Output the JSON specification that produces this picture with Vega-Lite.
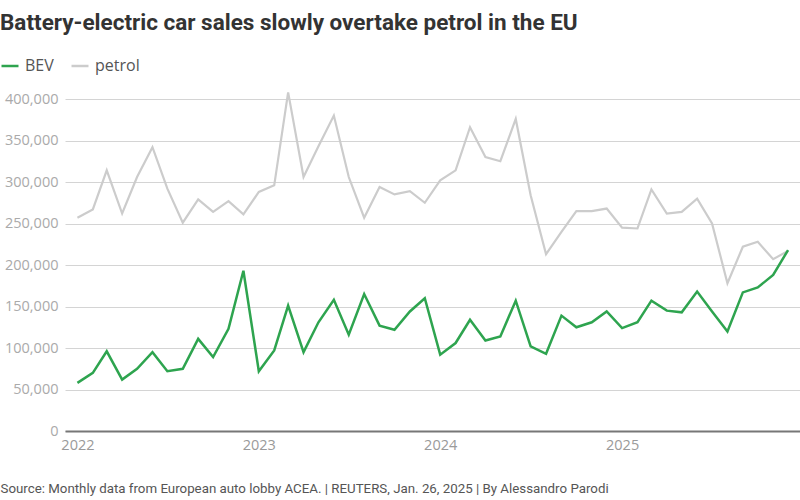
{
  "$schema": "https://vega.github.io/schema/vega-lite/v6.json",
  "width": 735,
  "height": 332,
  "autosize": {"type": "none"},
  "padding": {"left": 65, "top": 99, "right": 0, "bottom": 69},
  "background": "white",
  "title": {
    "text": "Battery-electric car sales slowly overtake petrol in the EU",
    "anchor": "start",
    "frame": "group",
    "dx": -65,
    "offset": 4,
    "baseline": "alphabetic",
    "font": "Roboto",
    "fontSize": 22.5,
    "fontWeight": "bold",
    "color": "#333333"
  },
  "data": {
    "format": {"parse": {"month": "date:'%Y-%m'"}},
    "values": [
      {"month": "2022-01", "series": "BEV", "sales": 58000},
      {"month": "2022-02", "series": "BEV", "sales": 70000},
      {"month": "2022-03", "series": "BEV", "sales": 96000},
      {"month": "2022-04", "series": "BEV", "sales": 62000},
      {"month": "2022-05", "series": "BEV", "sales": 75000},
      {"month": "2022-06", "series": "BEV", "sales": 95000},
      {"month": "2022-07", "series": "BEV", "sales": 72000},
      {"month": "2022-08", "series": "BEV", "sales": 75000},
      {"month": "2022-09", "series": "BEV", "sales": 111000},
      {"month": "2022-10", "series": "BEV", "sales": 89000},
      {"month": "2022-11", "series": "BEV", "sales": 123000},
      {"month": "2022-12", "series": "BEV", "sales": 193000},
      {"month": "2023-01", "series": "BEV", "sales": 72000},
      {"month": "2023-02", "series": "BEV", "sales": 97000},
      {"month": "2023-03", "series": "BEV", "sales": 151000},
      {"month": "2023-04", "series": "BEV", "sales": 95000},
      {"month": "2023-05", "series": "BEV", "sales": 131000},
      {"month": "2023-06", "series": "BEV", "sales": 158000},
      {"month": "2023-07", "series": "BEV", "sales": 116000},
      {"month": "2023-08", "series": "BEV", "sales": 165000},
      {"month": "2023-09", "series": "BEV", "sales": 127000},
      {"month": "2023-10", "series": "BEV", "sales": 122000},
      {"month": "2023-11", "series": "BEV", "sales": 144000},
      {"month": "2023-12", "series": "BEV", "sales": 160000},
      {"month": "2024-01", "series": "BEV", "sales": 92000},
      {"month": "2024-02", "series": "BEV", "sales": 106000},
      {"month": "2024-03", "series": "BEV", "sales": 134000},
      {"month": "2024-04", "series": "BEV", "sales": 109000},
      {"month": "2024-05", "series": "BEV", "sales": 114000},
      {"month": "2024-06", "series": "BEV", "sales": 157000},
      {"month": "2024-07", "series": "BEV", "sales": 102000},
      {"month": "2024-08", "series": "BEV", "sales": 93000},
      {"month": "2024-09", "series": "BEV", "sales": 139000},
      {"month": "2024-10", "series": "BEV", "sales": 125000},
      {"month": "2024-11", "series": "BEV", "sales": 131000},
      {"month": "2024-12", "series": "BEV", "sales": 144000},
      {"month": "2025-01", "series": "BEV", "sales": 124000},
      {"month": "2025-02", "series": "BEV", "sales": 131000},
      {"month": "2025-03", "series": "BEV", "sales": 157000},
      {"month": "2025-04", "series": "BEV", "sales": 145000},
      {"month": "2025-05", "series": "BEV", "sales": 143000},
      {"month": "2025-06", "series": "BEV", "sales": 168000},
      {"month": "2025-07", "series": "BEV", "sales": 144000},
      {"month": "2025-08", "series": "BEV", "sales": 120000},
      {"month": "2025-09", "series": "BEV", "sales": 167000},
      {"month": "2025-10", "series": "BEV", "sales": 173000},
      {"month": "2025-11", "series": "BEV", "sales": 188000},
      {"month": "2025-12", "series": "BEV", "sales": 218000},
      {"month": "2022-01", "series": "petrol", "sales": 257000},
      {"month": "2022-02", "series": "petrol", "sales": 267000},
      {"month": "2022-03", "series": "petrol", "sales": 314000},
      {"month": "2022-04", "series": "petrol", "sales": 262000},
      {"month": "2022-05", "series": "petrol", "sales": 306000},
      {"month": "2022-06", "series": "petrol", "sales": 342000},
      {"month": "2022-07", "series": "petrol", "sales": 292000},
      {"month": "2022-08", "series": "petrol", "sales": 251000},
      {"month": "2022-09", "series": "petrol", "sales": 279000},
      {"month": "2022-10", "series": "petrol", "sales": 264000},
      {"month": "2022-11", "series": "petrol", "sales": 277000},
      {"month": "2022-12", "series": "petrol", "sales": 261000},
      {"month": "2023-01", "series": "petrol", "sales": 288000},
      {"month": "2023-02", "series": "petrol", "sales": 296000},
      {"month": "2023-03", "series": "petrol", "sales": 408000},
      {"month": "2023-04", "series": "petrol", "sales": 306000},
      {"month": "2023-05", "series": "petrol", "sales": 343000},
      {"month": "2023-06", "series": "petrol", "sales": 380000},
      {"month": "2023-07", "series": "petrol", "sales": 306000},
      {"month": "2023-08", "series": "petrol", "sales": 257000},
      {"month": "2023-09", "series": "petrol", "sales": 294000},
      {"month": "2023-10", "series": "petrol", "sales": 285000},
      {"month": "2023-11", "series": "petrol", "sales": 289000},
      {"month": "2023-12", "series": "petrol", "sales": 275000},
      {"month": "2024-01", "series": "petrol", "sales": 302000},
      {"month": "2024-02", "series": "petrol", "sales": 314000},
      {"month": "2024-03", "series": "petrol", "sales": 366000},
      {"month": "2024-04", "series": "petrol", "sales": 330000},
      {"month": "2024-05", "series": "petrol", "sales": 325000},
      {"month": "2024-06", "series": "petrol", "sales": 376000},
      {"month": "2024-07", "series": "petrol", "sales": 284000},
      {"month": "2024-08", "series": "petrol", "sales": 213000},
      {"month": "2024-09", "series": "petrol", "sales": 240000},
      {"month": "2024-10", "series": "petrol", "sales": 265000},
      {"month": "2024-11", "series": "petrol", "sales": 265000},
      {"month": "2024-12", "series": "petrol", "sales": 268000},
      {"month": "2025-01", "series": "petrol", "sales": 245000},
      {"month": "2025-02", "series": "petrol", "sales": 244000},
      {"month": "2025-03", "series": "petrol", "sales": 291000},
      {"month": "2025-04", "series": "petrol", "sales": 262000},
      {"month": "2025-05", "series": "petrol", "sales": 264000},
      {"month": "2025-06", "series": "petrol", "sales": 280000},
      {"month": "2025-07", "series": "petrol", "sales": 250000},
      {"month": "2025-08", "series": "petrol", "sales": 178000},
      {"month": "2025-09", "series": "petrol", "sales": 222000},
      {"month": "2025-10", "series": "petrol", "sales": 228000},
      {"month": "2025-11", "series": "petrol", "sales": 207000},
      {"month": "2025-12", "series": "petrol", "sales": 217000}
    ]
  },
  "encoding": {
    "x": {
      "field": "month",
      "type": "temporal",
      "scale": {
        "domain": [
          {"year": 2021, "month": 12, "date": 7},
          {"year": 2025, "month": 12, "date": 25}
        ]
      },
      "axis": {
        "title": "Source: Monthly data from European auto lobby ACEA. | REUTERS, Jan. 26, 2025 | By Alessandro Parodi",
        "titleAnchor": "start",
        "titleAlign": "left",
        "titleX": -65,
        "titleY": 61,
        "titleBaseline": "alphabetic",
        "titleFont": "Roboto",
        "titleFontSize": 13.3,
        "titleFontWeight": "normal",
        "titleColor": "#555555",
        "format": "%Y",
        "tickCount": {"interval": "year", "step": 1},
        "grid": false,
        "ticks": false,
        "domain": true,
        "domainColor": "#777777",
        "domainWidth": 2,
        "labelFont": "Open Sans",
        "labelFontSize": 14.5,
        "labelColor": "#9a9a9a",
        "labelPadding": 7
      }
    },
    "y": {
      "field": "sales",
      "type": "quantitative",
      "scale": {"domain": [0, 400000], "nice": false},
      "axis": {
        "title": null,
        "values": [0, 50000, 100000, 150000, 200000, 250000, 300000, 350000, 400000],
        "format": ",.0f",
        "domain": false,
        "ticks": false,
        "grid": true,
        "gridColor": "#d4d4d4",
        "gridWidth": 1,
        "labelFont": "Open Sans",
        "labelFontSize": 14.5,
        "labelColor": "#aaaaaa",
        "labelPadding": 7
      }
    },
    "color": {
      "field": "series",
      "type": "nominal",
      "scale": {"domain": ["BEV", "petrol"], "range": ["#2ea44f", "#cccccc"]},
      "legend": {
        "title": null,
        "orient": "none",
        "legendX": -65,
        "legendY": -43,
        "direction": "horizontal",
        "symbolType": "stroke",
        "symbolStrokeWidth": 2.5,
        "symbolSize": 289,
        "labelFont": "Open Sans",
        "labelFontSize": 16,
        "labelColor": "#555555",
        "labelOffset": 5,
        "columnPadding": 12
      }
    }
  },
  "layer": [
    {
      "transform": [{"filter": "datum.series === 'petrol'"}],
      "mark": {"type": "line", "strokeWidth": 2.2}
    },
    {
      "transform": [{"filter": "datum.series === 'BEV'"}],
      "mark": {"type": "line", "strokeWidth": 2.5}
    }
  ],
  "config": {
    "view": {"stroke": null}
  }
}
